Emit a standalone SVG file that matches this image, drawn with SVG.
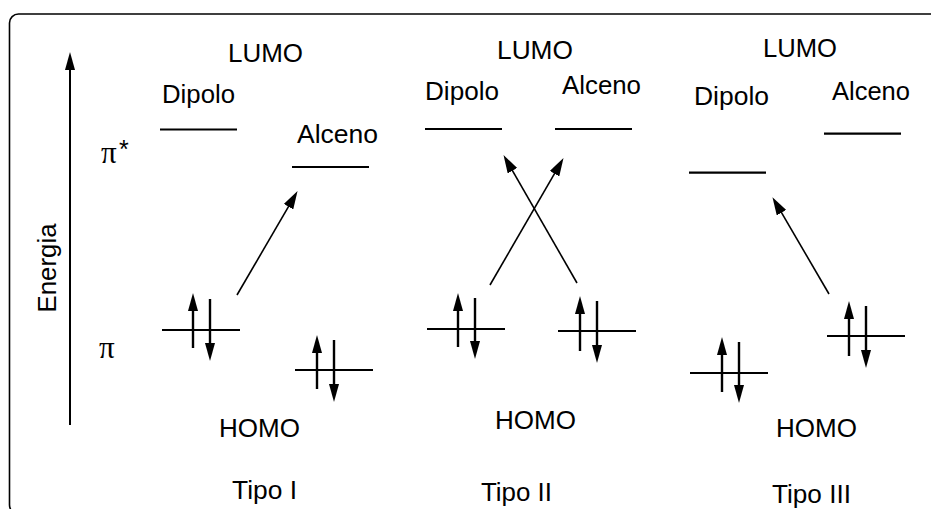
<svg xmlns="http://www.w3.org/2000/svg" width="931" height="509" viewBox="0 0 931 509">
  <style>
    text { font-family: "Liberation Sans", Arial, sans-serif; font-size: 25px; fill: #000; }
    .greek { font-family: "Liberation Serif", "Times New Roman", serif; font-size: 31px; }
    .frame { fill: none; stroke: #000; stroke-width: 1.6; }
    .level { stroke: #000; stroke-width: 2.2; }
    .spin { stroke: #000; stroke-width: 2.4; marker-end: url(#spinHead); }
    .trans { stroke: #000; stroke-width: 1.6; marker-end: url(#transHead); }
    .axis { stroke: #000; stroke-width: 2; marker-end: url(#axisHead); }
  </style>
  <defs>
    <marker id="spinHead" markerUnits="userSpaceOnUse" markerWidth="18" markerHeight="11" refX="9" refY="5" orient="auto">
      <path d="M0,0 L18,5 L0,10 z" fill="#000"/>
    </marker>
    <marker id="transHead" markerUnits="userSpaceOnUse" markerWidth="18" markerHeight="11" refX="9" refY="5.5" orient="auto">
      <path d="M0,0 L18,5.5 L0,11 z" fill="#000"/>
    </marker>
    <marker id="axisHead" markerUnits="userSpaceOnUse" markerWidth="18" markerHeight="10" refX="9" refY="5" orient="auto">
      <path d="M0,0 L18,5 L0,10 z" fill="#000"/>
    </marker>
  </defs>

  <rect class="frame" x="9.5" y="14" width="945" height="500" rx="9" ry="9"/>

  <!-- energy axis -->
  <g id="axis">
    <line class="axis" x1="70" y1="425" x2="70" y2="61"/>
    <text transform="translate(56,268) rotate(-90)" text-anchor="middle" textLength="89" lengthAdjust="spacingAndGlyphs">Energia</text>
    <text class="greek" x="101" y="163">π</text>
    <text x="119" y="158" font-size="21">*</text>
    <text class="greek" x="99" y="358">π</text>
  </g>

  <!-- Tipo I -->
  <g id="tipo1">
    <text x="228" y="62" textLength="75" lengthAdjust="spacingAndGlyphs">LUMO</text>
    <text x="162" y="103" textLength="73" lengthAdjust="spacingAndGlyphs">Dipolo</text>
    <text x="297" y="143" textLength="81" lengthAdjust="spacingAndGlyphs">Alceno</text>
    <line class="level" x1="160" y1="129.5" x2="237" y2="129.5"/>
    <line class="level" x1="292" y1="167" x2="369" y2="167"/>
    <line class="level" x1="162" y1="330" x2="240" y2="330"/>
    <line class="spin" x1="193" y1="348" x2="193" y2="302"/>
    <line class="spin" x1="210" y1="299" x2="210" y2="352"/>
    <line class="level" x1="295" y1="370" x2="373" y2="370"/>
    <line class="spin" x1="317" y1="389" x2="317" y2="344"/>
    <line class="spin" x1="334" y1="340" x2="334" y2="393"/>
    <text x="219" y="437" textLength="81" lengthAdjust="spacingAndGlyphs">HOMO</text>
    <text x="232" y="499" textLength="65" lengthAdjust="spacingAndGlyphs">Tipo I</text>
  </g>

  <!-- Tipo II -->
  <g id="tipo2">
    <text x="497" y="59" textLength="76" lengthAdjust="spacingAndGlyphs">LUMO</text>
    <text x="425" y="100" textLength="74" lengthAdjust="spacingAndGlyphs">Dipolo</text>
    <text x="562" y="94" textLength="79" lengthAdjust="spacingAndGlyphs">Alceno</text>
    <line class="level" x1="425" y1="129" x2="502" y2="129"/>
    <line class="level" x1="555" y1="129" x2="632" y2="129"/>
    <line class="level" x1="427" y1="329" x2="505" y2="329"/>
    <line class="spin" x1="458" y1="347" x2="458" y2="302"/>
    <line class="spin" x1="475" y1="298" x2="475" y2="350"/>
    <line class="level" x1="558" y1="331" x2="636" y2="331"/>
    <line class="spin" x1="580" y1="351" x2="580" y2="305"/>
    <line class="spin" x1="597" y1="301" x2="597" y2="354"/>
    <text x="495" y="429" textLength="81" lengthAdjust="spacingAndGlyphs">HOMO</text>
    <text x="481" y="501" textLength="71" lengthAdjust="spacingAndGlyphs">Tipo II</text>
  </g>

  <!-- Tipo III -->
  <g id="tipo3">
    <text x="763" y="57" textLength="74" lengthAdjust="spacingAndGlyphs">LUMO</text>
    <text x="694" y="105" textLength="75" lengthAdjust="spacingAndGlyphs">Dipolo</text>
    <text x="832" y="100" textLength="78" lengthAdjust="spacingAndGlyphs">Alceno</text>
    <line class="level" x1="689" y1="172.7" x2="766" y2="172.7"/>
    <line class="level" x1="824" y1="133.7" x2="901" y2="133.7"/>
    <line class="level" x1="690" y1="373" x2="768" y2="373"/>
    <line class="spin" x1="722" y1="392" x2="722" y2="346"/>
    <line class="spin" x1="739" y1="342" x2="739" y2="394"/>
    <line class="level" x1="827" y1="336" x2="905" y2="336"/>
    <line class="spin" x1="849" y1="356" x2="849" y2="310"/>
    <line class="spin" x1="866" y1="306" x2="866" y2="359"/>
    <text x="776" y="437" textLength="81" lengthAdjust="spacingAndGlyphs">HOMO</text>
    <text x="772" y="503" textLength="79" lengthAdjust="spacingAndGlyphs">Tipo III</text>
  </g>

  <!-- HOMO to LUMO transitions -->
  <g id="connectors">
    <line class="trans" x1="237" y1="295" x2="293" y2="198.9"/>
    <line class="trans" x1="490" y1="285" x2="559" y2="165.9"/>
    <line class="trans" x1="577" y1="283" x2="508" y2="162.9"/>
    <line class="trans" x1="829" y1="294" x2="777" y2="204.9"/>
  </g>
</svg>
